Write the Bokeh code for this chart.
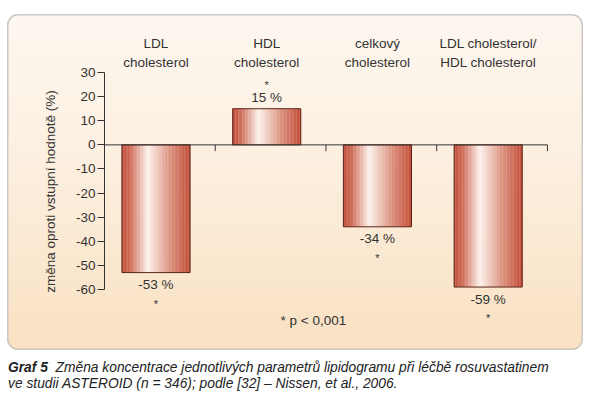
from bokeh.plotting import figure
from bokeh.models import FixedTicker, Div, Range1d
from bokeh.layouts import column
from bokeh.core.properties import value
from bokeh.embed import file_html
from bokeh.resources import INLINE

# ---- data ----
categories = ["LDL\ncholesterol", "HDL\ncholesterol", "celkový\ncholesterol",
              "LDL cholesterol/\nHDL cholesterol"]
values = [-53, 15, -34, -59]
value_labels = ["-53 %", "15 %", "-34 %", "-59 %"]
star_labels = ["*", "*", "*", "*"]
y_ticks = [30, 20, 10, 0, -10, -20, -30, -40, -50, -60]
y_tick_labels = ["30", "20", "10", "0", "-10", "-20", "-30", "-40", "-50", "-60"]
note_text = "* p < 0,001"
y_title = "změna oproti vstupní hodnotě (%)"
caption_bold = "Graf 5"
caption_rest = ("Změna koncentrace jednotlivých parametrů lipidogramu při léčbě rosuvastatinem"
                "<br>ve studii ASTEROID (n = 346); podle [32] – Nissen, et al., 2006.")

FONT = "Liberation Sans"
TXT = "#333333"

n = len(categories)
p = figure(width=576, height=336, x_range=Range1d(0, n + 0.1), y_range=Range1d(-84.5, 45.8),
           output_backend="svg", toolbar_location=None, x_axis_location=None,
           min_border_left=97, min_border_right=25, min_border_top=20, min_border_bottom=2)
p.background_fill_color = None
p.border_fill_color = None
p.outline_line_color = None
p.xgrid.visible = False
p.ygrid.visible = False
p.styles = {
    "background": "linear-gradient(to bottom, #fdf7f0 0%, #fcefdf 45%, #f9e1c2 100%)",
    "border-radius": "11px",
    "box-shadow": "inset 0 0 0 1.5px #ccc7c2",
}

ax = p.yaxis[0]
ax.ticker = FixedTicker(ticks=y_ticks)
ax.major_label_overrides = {t: l for t, l in zip(y_ticks, y_tick_labels)}
ax.bounds = (min(y_ticks), max(y_ticks))
ax.major_tick_out = 7
ax.major_tick_in = 0
ax.minor_tick_line_color = None
ax.axis_line_color = TXT
ax.major_tick_line_color = TXT
ax.major_label_text_font = FONT
ax.major_label_text_font_size = "13.5px"
ax.major_label_text_color = TXT
ax.major_label_standoff = 2
ax.axis_label = y_title
ax.axis_label_standoff = 15
ax.axis_label_text_font = FONT
ax.axis_label_text_font_style = "normal"
ax.axis_label_text_font_size = "13.5px"
ax.axis_label_text_color = TXT

# ---- gradient bars (drawn as thin vertical strips) ----
stops = [(0.0, (192, 78, 58)), (0.12, (205, 105, 85)), (0.38, (253, 243, 238)),
         (0.70, (220, 148, 130)), (1.0, (194, 75, 54))]

def grad(t):
    for (t0, c0), (t1, c1) in zip(stops[:-1], stops[1:]):
        if t0 <= t <= t1:
            f = (t - t0) / (t1 - t0)
            r, g, b = (int(round(a + (bb - a) * f)) for a, bb in zip(c0, c1))
            return "#%02x%02x%02x" % (r, g, b)
    return "#%02x%02x%02x" % stops[-1][1]

BAR_W = 0.615
SHIFT = -0.035
NSTRIP = 48
centers = [i + 0.5 + SHIFT for i in range(n)]
sx, stop_, sbot, scol = [], [], [], []
for c, v in zip(centers, values):
    for j in range(NSTRIP):
        t = (j + 0.5) / NSTRIP
        sx.append(c - BAR_W / 2 + t * BAR_W)
        stop_.append(max(v, 0))
        sbot.append(min(v, 0))
        scol.append(grad(t))
p.vbar(x=sx, width=BAR_W / NSTRIP * 1.15, top=stop_, bottom=sbot,
       fill_color=scol, line_color=None)
p.vbar(x=centers, width=BAR_W, top=[max(v, 0) for v in values],
       bottom=[min(v, 0) for v in values], fill_color=None,
       line_color="#5a2418", line_width=1)

# zero line with category separators
p.segment(x0=[0], y0=[0], x1=[n], y1=[0], line_color=TXT, line_width=1)
bounds = list(range(1, n + 1))
p.segment(x0=bounds, y0=[0] * n, x1=bounds, y1=[-2.6] * n, line_color=TXT, line_width=1)

# category labels
p.text(x=centers, y=[38.1] * n, text=categories, text_align="center",
       text_baseline="middle", text_font=value(FONT), text_font_size="13.5px",
       text_color=TXT, text_line_height=1.25)

# value labels and significance stars
p.text(x=centers, y=values, text=value_labels,
       y_offset=[12 if v < 0 else -11 for v in values],
       text_align="center", text_baseline="middle", text_font=value(FONT),
       text_font_size="13.5px", text_color=TXT)
p.text(x=centers, y=values, text=star_labels,
       y_offset=[31 if v < 0 else -24 for v in values],
       text_align="center", text_baseline="middle", text_font=value(FONT),
       text_font_size="11px", text_color=TXT)

p.text(x=[1.887], y=[-72.9], text=[note_text], text_align="center",
       text_baseline="middle", text_font=value(FONT), text_font_size="13.5px",
       text_color=TXT)

cap = Div(text="<b>%s</b>&nbsp; %s" % (caption_bold, caption_rest), width=585,
          margin=(10, 0, 0, 1),
          styles={"font-family": FONT, "font-style": "italic", "font-size": "13.8px",
                  "line-height": "16px", "color": "#222222", "white-space": "nowrap"})

layout = column(p, cap, margin=(14, 0, 0, 7))
open("out.html", "w").write(file_html(layout, INLINE))
